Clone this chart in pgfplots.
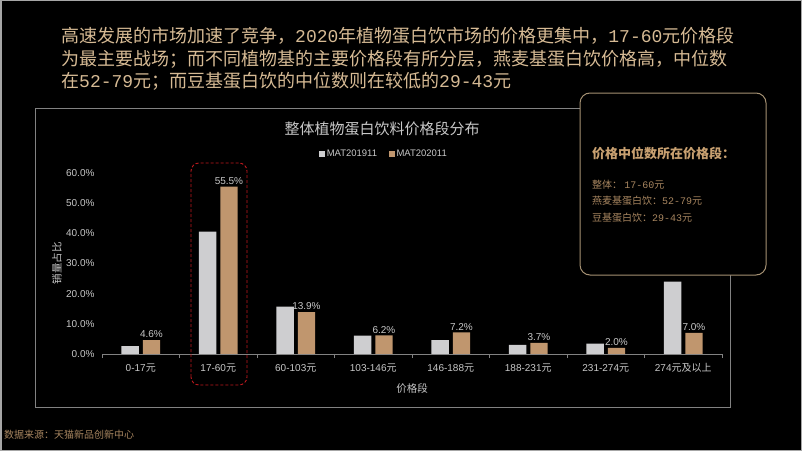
\documentclass[border=0pt]{standalone}
\usepackage{pgfplots}
\pgfplotsset{compat=1.18}
\usepackage{fontspec}
\setmainfont{Liberation Sans}
\newfontfamily\cjk{Noto Sans CJK SC}
\newfontfamily\mono{Liberation Mono}
\newcommand\M[1]{{\mono #1}}
\definecolor{graybar}{RGB}{206,206,208}
\definecolor{tanbar}{RGB}{192,150,110}
\definecolor{lbl}{RGB}{200,200,200}
\definecolor{axisgray}{RGB}{130,130,130}
\definecolor{topgold}{RGB}{214,186,148}
\definecolor{boxgold}{RGB}{200,160,112}
\definecolor{boxtext}{RGB}{168,134,96}
\definecolor{boxborder}{RGB}{165,145,115}
\definecolor{redd}{RGB}{190,25,30}
\begin{document}
\begin{tikzpicture}[x=1pt,y=1pt]
\fill[black] (0,0) rectangle (802,451);
\useasboundingbox (0,0) rectangle (802,451);
\draw[gray!70, line width=1.5pt] (0.75,0.75) rectangle (801.25,450.25);
% top text
\node[anchor=base west, font=\cjk\fontsize{18}{20}\selectfont, text=topgold, inner sep=0pt] at (61,408) {高速发展的市场加速了竞争，\M{2020}年植物蛋白饮市场的价格更集中，\M{17-60}元价格段};
\node[anchor=base west, font=\cjk\fontsize{18}{20}\selectfont, text=topgold, inner sep=0pt] at (61,386) {为最主要战场；而不同植物基的主要价格段有所分层，燕麦基蛋白饮价格高，中位数};
\node[anchor=base west, font=\cjk\fontsize{18}{20}\selectfont, text=topgold, inner sep=0pt] at (61,364) {在\M{52-79}元；而豆基蛋白饮的中位数则在较低的\M{29-43}元};
% chart frame
\draw[axisgray, line width=0.8pt] (35,343) rectangle (730,44);
\begin{axis}[
  at={(102pt,97pt)}, anchor=south west, scale only axis,
  width=620pt, height=181pt,
  xmin=-0.5, xmax=7.5, ymin=0, ymax=60,
  ybar=4pt, bar width=17.4pt,
  clip=false,
  axis line style={draw=none},
  tick pos=left,
  xtick={0,1,2,3,4,5,6,7},
  xticklabels={0-17{\cjk 元},17-60{\cjk 元},60-103{\cjk 元},103-146{\cjk 元},146-188{\cjk 元},188-231{\cjk 元},231-274{\cjk 元},274{\cjk 元及以上}},
  minor xtick={-0.5,0.5,1.5,2.5,3.5,4.5,5.5,6.5,7.5},
  major x tick style={draw=none},
  minor x tick style={draw=axisgray},
  minor tick length=4pt, major tick length=0pt,
  tick align=outside,
  ytick={0,10,20,30,40,50,60},
  ytick style={draw=none},
  /pgf/number format/assume math mode=true,
  yticklabel={\pgfmathprintnumber[fixed,fixed zerofill,precision=1]{\tick}\%},
  yticklabel style={font=\fontsize{10}{12}\selectfont, text=lbl, xshift=-4pt},
  xticklabel style={font=\fontsize{10}{12}\selectfont, text=lbl, yshift=-6pt},
  legend style={at={(0.455,1.105)}, anchor=center, legend columns=2, draw=none, fill=none, text=lbl, font=\fontsize{9.5}{11}\selectfont, /tikz/every even column/.append style={column sep=10pt}},
  legend image code/.code={\fill[#1,draw=none] (0pt,-2.7pt) rectangle (5.4pt,2.7pt);},
]
\addplot[fill=graybar, draw=none] coordinates {(0,2.6) (1,40.6) (2,15.7) (3,6.1) (4,4.6) (5,3.0) (6,3.4) (7,24.0)};
\addplot[fill=tanbar, draw=none, nodes near coords={\pgfmathprintnumber[fixed,fixed zerofill,precision=1]{\pgfplotspointmeta}\%}, every node near coord/.append style={font=\fontsize{10}{12}\selectfont, text=lbl, inner sep=2pt}] coordinates {(0,4.6) (1,55.5) (2,13.9) (3,6.2) (4,7.2) (5,3.7) (6,2.0) (7,7.0)};
\draw[axisgray, line width=0.8pt] (axis cs:-0.5,0) -- (axis cs:7.5,0);
\legend{MAT201911,MAT202011}
\end{axis}
% titles
\node[font=\cjk\fontsize{15}{18}\selectfont, text=lbl] at (382,322) {整体植物蛋白饮料价格段分布};
\node[font=\cjk\fontsize{10.5}{12}\selectfont, text=lbl] at (412,62) {价格段};
\node[font=\cjk\fontsize{10.5}{12}\selectfont, text=lbl, rotate=90] at (57,188) {销量占比};
% red dashed highlight
\draw[redd, line width=0.9pt, dash pattern=on 3pt off 2pt, rounded corners=8pt] (191,66) rectangle (247,288);
% info box
\draw[boxborder, line width=1pt, fill=black, rounded corners=10pt] (580,358) rectangle (766,176);
\node[anchor=west, font=\cjk\bfseries\fontsize{13}{15}\selectfont, text=boxgold, inner sep=0pt] at (592,298) {价格中位数所在价格段：};
\node[anchor=west, font=\cjk\fontsize{10}{12}\selectfont, text=boxtext, inner sep=0pt] at (592,266.5) {整体： \M{17-60}元};
\node[anchor=west, font=\cjk\fontsize{10}{12}\selectfont, text=boxtext, inner sep=0pt] at (592,250) {燕麦基蛋白饮：\M{52-79}元};
\node[anchor=west, font=\cjk\fontsize{10}{12}\selectfont, text=boxtext, inner sep=0pt] at (592,233.5) {豆基蛋白饮：\M{29-43}元};
% source
\node[anchor=west, font=\cjk\fontsize{10}{12}\selectfont, text=boxtext, inner sep=0pt] at (4,16) {数据来源：天猫新品创新中心};
\end{tikzpicture}
\end{document}
